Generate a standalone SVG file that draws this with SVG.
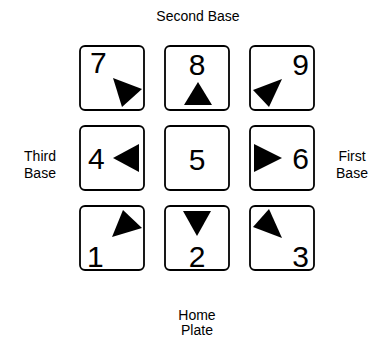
<svg xmlns="http://www.w3.org/2000/svg" width="378" height="337" viewBox="0 0 378 337">
<style>
.box{fill:#fff;stroke:#000;stroke-width:1.8}
.num{font-family:"Liberation Sans",Arial,sans-serif;font-size:30px;fill:#000}
.lbl{font-family:"Liberation Sans",Arial,sans-serif;font-size:14px;fill:#000;text-anchor:middle}
.tri{fill:#000}
</style>
<rect width="378" height="337" fill="#fff"/>
<g id="labels">
<text class="lbl" x="198" y="21">Second Base</text>
<text class="lbl" x="40" y="161">Third</text>
<text class="lbl" x="40" y="178">Base</text>
<text class="lbl" x="352" y="161">First</text>
<text class="lbl" x="352" y="178">Base</text>
<text class="lbl" x="197" y="320">Home</text>
<text class="lbl" x="197" y="335">Plate</text>
</g>
<g id="connectors"></g>
<g id="box7"><rect class="box" x="80" y="46" width="64" height="64" rx="5"/><text class="num" x="90" y="73">7</text><polygon class="tri" points="113,78 142,89 122,107"/></g>
<g id="box8"><rect class="box" x="165" y="46" width="64" height="64" rx="5"/><text class="num" x="197" y="75" text-anchor="middle">8</text><polygon class="tri" points="198,82 184,105 212,105"/></g>
<g id="box9"><rect class="box" x="250" y="46" width="64" height="64" rx="5"/><text class="num" x="309" y="75" text-anchor="end">9</text><polygon class="tri" points="253,90 282,79 269,107"/></g>
<g id="box4"><rect class="box" x="80" y="126" width="64" height="64" rx="5"/><text class="num" x="88" y="169">4</text><polygon class="tri" points="113,158 139,144 139,172"/></g>
<g id="box5"><rect class="box" x="165" y="126" width="64" height="64" rx="5"/><text class="num" x="197" y="170" text-anchor="middle">5</text></g>
<g id="box6"><rect class="box" x="250" y="126" width="64" height="64" rx="5"/><text class="num" x="309" y="169" text-anchor="end">6</text><polygon class="tri" points="254,144 254,172 282,158"/></g>
<g id="box1"><rect class="box" x="80" y="206" width="64" height="64" rx="5"/><text class="num" x="87" y="267">1</text><polygon class="tri" points="112,237 123,210 142,228"/></g>
<g id="box2"><rect class="box" x="165" y="206" width="64" height="64" rx="5"/><text class="num" x="197" y="267" text-anchor="middle">2</text><polygon class="tri" points="197,236 183,211 211,211"/></g>
<g id="box3"><rect class="box" x="250" y="206" width="64" height="64" rx="5"/><text class="num" x="309" y="267" text-anchor="end">3</text><polygon class="tri" points="253,227 282,238 269,209"/></g>
</svg>
